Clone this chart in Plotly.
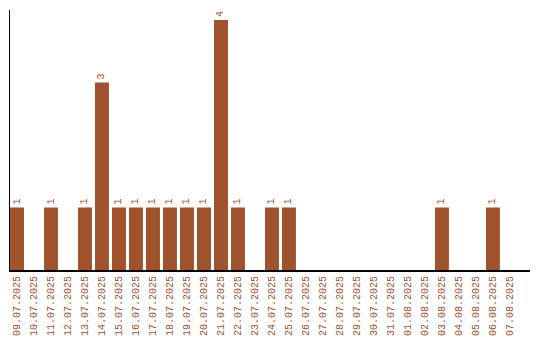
import plotly.graph_objects as go

dates = ["09.07.2025","10.07.2025","11.07.2025","12.07.2025","13.07.2025","14.07.2025",
         "15.07.2025","16.07.2025","17.07.2025","18.07.2025","19.07.2025","20.07.2025",
         "21.07.2025","22.07.2025","23.07.2025","24.07.2025","25.07.2025","26.07.2025",
         "27.07.2025","28.07.2025","29.07.2025","30.07.2025","31.07.2025","01.08.2025",
         "02.08.2025","03.08.2025","04.08.2025","05.08.2025","06.08.2025","07.08.2025"]
counts = [1,0,1,0,1,3,1,1,1,1,1,1,4,1,0,1,1,0,0,0,0,0,0,0,0,1,0,0,1,0]

color = "#A0522D"
labels = [str(v) if v else "" for v in counts]
font_family = "Liberation Mono"

fig = go.Figure(go.Bar(
    x=list(range(len(dates))), y=counts, marker_color=color, marker_line_width=0,
    text=labels, textposition="outside", textangle=-90, cliponaxis=False,
    textfont=dict(family=font_family, size=10, color=color),
))
fig.update_layout(
    width=540, height=340, margin=dict(l=10, r=10, t=10, b=70, autoexpand=False),
    paper_bgcolor="white", plot_bgcolor="white", showlegend=False, bargap=0.18,
    font=dict(family=font_family, size=10, color=color),
)
fig.update_xaxes(tickmode="array", tickvals=list(range(len(dates))), ticktext=dates,
                 tickangle=-90, range=[-0.412, 30.18], showgrid=False, zeroline=False,
                 showline=True, linecolor="black", linewidth=2, ticks="", automargin=False,
                 tickfont=dict(family=font_family, size=10, color=color))
fig.update_yaxes(range=[0, 4.16], showgrid=False, zeroline=False, showline=True,
                 linecolor="black", linewidth=1, showticklabels=False, ticks="",
                 automargin=False)
fig.write_html("out.html")
